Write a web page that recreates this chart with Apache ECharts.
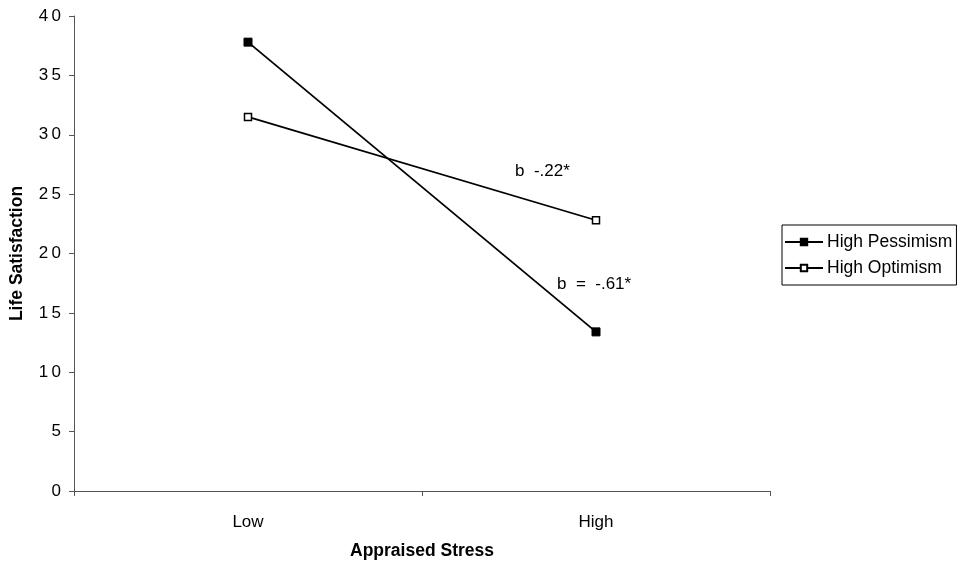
<!DOCTYPE html>
<html><head><meta charset="utf-8">
<script src="https://cdn.jsdelivr.net/npm/echarts@6/dist/echarts.min.js"></script>
<style>html,body{margin:0;padding:0;background:#fff}#c{width:960px;height:568px}</style>
</head><body><div id="c"></div>
<script>
const categories = ['Low', 'High'];
const pessimism = [37.8, 13.4];
const optimism = [31.5, 22.8];
const yTicks = [0, 5, 10, 15, 20, 25, 30, 35, 40];
const annotations = [
  {text: 'b  -.22*', x: 515, y: 163},
  {text: 'b  =  -.61*', x: 557, y: 276}
];
const font = '"Liberation Sans", Arial, sans-serif';
const chart = echarts.init(document.getElementById('c'));
chart.setOption({
  animation: false,
  backgroundColor: '#fff',
  textStyle: {fontFamily: font},
  grid: {left: 74, right: 190, top: 16, bottom: 77, outerBoundsMode: 'none', containLabel: false},
  legend: {
    orient: 'vertical', left: 782, top: 225,
    itemWidth: 38, itemHeight: 8, itemGap: 8,
    padding: [8, 4, 8, 2],
    borderColor: '#000', borderWidth: 1, borderRadius: 0,
    textStyle: {fontFamily: font, fontSize: 17.5, color: '#000', padding: [0, 0, 0, -1]},
    data: ['High Pessimism', 'High Optimism']
  },
  xAxis: {
    type: 'category', data: categories, boundaryGap: true,
    name: 'Appraised Stress', nameLocation: 'middle', nameGap: 51,
    nameTextStyle: {fontFamily: font, fontSize: 17.5, fontWeight: 'bold', color: '#000'},
    axisLine: {lineStyle: {color: '#555', width: 1}},
    axisTick: {show: true, length: 5, lineStyle: {color: '#555'}},
    axisLabel: {fontFamily: font, fontSize: 17, color: '#000', margin: 23}
  },
  yAxis: {
    type: 'value', min: 0, max: 40, interval: 5,
    name: 'Life Satisfaction', nameLocation: 'middle', nameGap: 48,
    nameTextStyle: {fontFamily: font, fontSize: 17.5, fontWeight: 'bold', color: '#000'},
    axisLine: {show: true, lineStyle: {color: '#555', width: 1}},
    axisTick: {show: true, length: 5, lineStyle: {color: '#555'}},
    splitLine: {show: false},
    axisLabel: {fontFamily: font, fontSize: 17, color: '#000', margin: 13,
      formatter: v => yTicks.includes(v) ? String(v).split('').join('\u2009') : ''}
  },
  series: [
    {name: 'High Pessimism', type: 'line', data: pessimism,
     symbol: 'rect', symbolSize: 8,
     lineStyle: {color: '#000', width: 1.8},
     itemStyle: {color: '#000', borderColor: '#000', borderWidth: 1}},
    {name: 'High Optimism', type: 'line', data: optimism,
     symbol: 'rect', symbolSize: 7,
     lineStyle: {color: '#000', width: 1.8},
     itemStyle: {color: '#fff', borderColor: '#000', borderWidth: 1.5}}
  ],
  graphic: annotations.map(a => ({
    type: 'text', left: a.x, top: a.y,
    style: {text: a.text, fontFamily: font, fontSize: 17, fill: '#000'}
  }))
});
</script></body></html>
